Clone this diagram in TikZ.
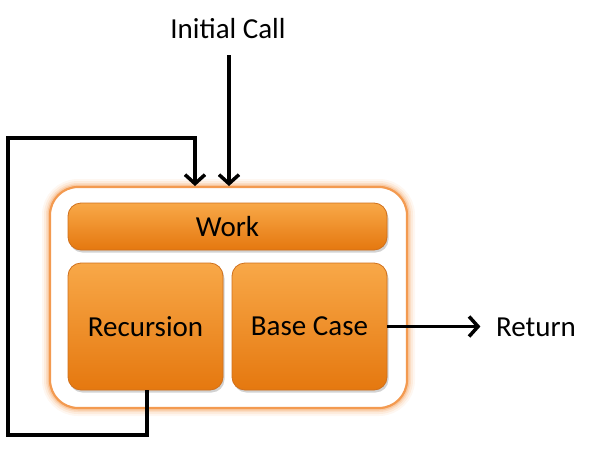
\documentclass[tikz,border=0pt]{standalone}
\usepackage{fontspec}
\setmainfont{Carlito}
\usetikzlibrary{positioning,arrows.meta,shadows}

\definecolor{boxtop}{HTML}{F8A848}
\definecolor{boxbot}{HTML}{E5780F}
\definecolor{boxline}{HTML}{D0701C}
\definecolor{frameline}{HTML}{F39A50}

\tikzset{
	stepbox/.style={rounded corners=13pt, top color=boxtop, bottom color=boxbot,
		draw=boxline, line width=0.8pt, font=\fontsize{29}{33}\selectfont,
		drop shadow={shadow xshift=1.5pt, shadow yshift=-2.5pt, opacity=0.35}},
	flow/.style={line width=3.5pt, -{Straight Barb[length=9pt,width=20pt,line width=3.5pt]}},
	plaintext/.style={font=\fontsize{29}{33}\selectfont},
}

\begin{document}
\begin{tikzpicture}[x=1pt,y=-1pt]
	\useasboundingbox (0,0) rectangle (598,450);

	% glow round the frame
	\foreach \w/\o in {16/0.08,12/0.12,8/0.18,5/0.3}
		\draw[frameline, line width=\w pt, opacity=\o, rounded corners=28pt] (50,187) rectangle (407,408);
	\node[draw=frameline, fill=white, line width=2.2pt, rounded corners=28pt,
		minimum width=357pt, minimum height=221pt] (frame) at (228.5,297.5) {};

	\node[stepbox, minimum width=319pt, minimum height=47pt] (work) at (227.5,226.5) {Work};
	\node[stepbox, minimum width=155pt, minimum height=127pt] (recursion) at (145.5,326.5) {Recursion};
	\node[stepbox, minimum width=155pt, minimum height=127pt] (basecase) at (309.5,326.5) {Base Case};

	\node[plaintext] (init) at (228,29) {Initial Call};
	\node[plaintext] (ret) at (536,327) {Return};

	\coordinate (loopin) at (195,186);
	\coordinate (callin) at (229,186);

	\draw[flow] (callin |- 0,55) -- (callin);
	\draw[flow] (basecase.east) -- ++(93,0);
	\draw[flow] ([xshift=1.5pt]recursion.south) |- (8,435) |- (loopin |- 0,138) -- (loopin);
\end{tikzpicture}
\end{document}
